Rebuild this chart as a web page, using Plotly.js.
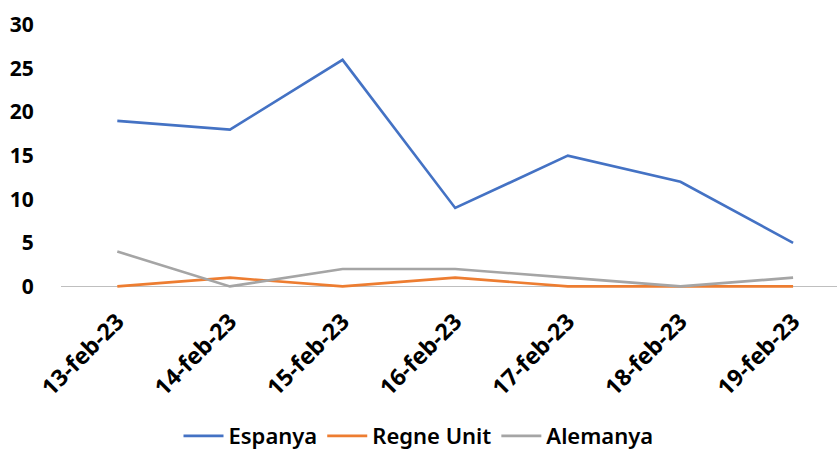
<!DOCTYPE html>
<html>
<head>
<meta charset="utf-8">
<script src="https://cdn.plot.ly/plotly-3.0.1.min.js"></script>
<style>html,body{margin:0;padding:0;background:#fff}#chart{width:837px;height:450px}</style>
</head>
<body>
<div id="chart"></div>
<script>
const categories = ["13-feb-23","14-feb-23","15-feb-23","16-feb-23","17-feb-23","18-feb-23","19-feb-23"];
const espanya = [19, 18, 26, 9, 15, 12, 5];
const regneUnit = [0, 1, 0, 1, 0, 0, 0];
const alemanya = [4, 0, 2, 2, 1, 0, 1];
const yTicks = [0, 5, 10, 15, 20, 25, 30];

const font = {family: "'Noto Sans', 'Open Sans', sans-serif", color: '#000'};
const mk = (name, y, color) => ({
  type: 'scatter', mode: 'lines', name, x: categories, y,
  line: {color, width: 2.6}, hoverinfo: 'skip'
});

const data = [
  mk('Espanya', espanya, '#4472C4'),
  mk('Regne Unit', regneUnit, '#ED7D31'),
  mk('Alemanya', alemanya, '#A5A5A5')
];

const layout = {
  width: 837, height: 450,
  margin: {l: 61, r: 0, t: 25, b: 161},
  paper_bgcolor: '#fff', plot_bgcolor: '#fff',
  font: Object.assign({}, font, {size: 20, weight: 700}),
  showlegend: true,
  legend: {
    orientation: 'h', xref: 'container', x: 0.5, xanchor: 'center',
    yref: 'container', y: 0.031, yanchor: 'middle',
    font: Object.assign({}, font, {size: 22, weight: 600}),
    itemwidth: 40, traceorder: 'normal'
  },
  xaxis: {
    type: 'category', range: [-0.5, 6.39], automargin: false,
    showgrid: false, zeroline: false, showline: false,
    tickangle: -45, ticks: 'outside', ticklen: 9, tickcolor: 'rgba(0,0,0,0)',
    tickfont: Object.assign({}, font, {size: 23, weight: 700}),
    fixedrange: true
  },
  yaxis: {
    range: [-0.3, 30], tickvals: yTicks, ticktext: yTicks.map(String),
    automargin: false,
    showgrid: false, showline: false,
    zeroline: true, zerolinecolor: '#BFBFBF', zerolinewidth: 1.5,
    ticks: 'outside', ticklen: 22, tickcolor: 'rgba(0,0,0,0)',
    tickfont: Object.assign({}, font, {size: 21, weight: 700}),
    fixedrange: true
  }
};

Plotly.newPlot('chart', data, layout, {staticPlot: true, displayModeBar: false});
</script>
</body>
</html>
